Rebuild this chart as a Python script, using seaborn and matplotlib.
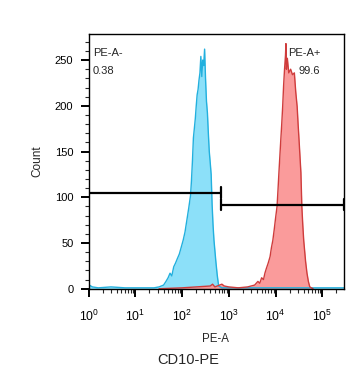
import numpy as np
import matplotlib
matplotlib.use("Agg")
import matplotlib.pyplot as plt
from matplotlib.ticker import FixedLocator, NullFormatter, MultipleLocator
import seaborn as sns

# ----------------------------------------------------
# DATA
# ----------------------------------------------------

# unstained / isotype (blue) histogram: PE-A value, count
blue_pe = [1.0, 1.03, 1.2, 1.6, 3, 6, 12, 25, 32, 40, 45, 50, 55, 60, 66, 72, 79, 87,
           95, 105, 115, 126, 138, 151, 158, 166, 174, 182, 191, 200, 209, 219,
           229, 240, 251, 263, 275, 288, 302, 316, 331, 347, 363, 380, 398, 417,
           437, 457, 479, 525, 562, 603, 708, 1500, 5000, 30000, 290000]
blue_count = [28, 4, 2, 1, 2, 1, 1, 1, 2, 4, 8, 12, 17, 14, 24, 28, 33, 38,
              45, 53, 62, 75, 88, 102, 118, 140, 165, 175, 186, 200, 212, 218,
              228, 236, 254, 232, 250, 244, 262, 230, 205, 192, 170, 150, 138, 125,
              92, 70, 53, 30, 15, 3, 1, 1, 1, 1, 1]

# CD10-PE stained (red) histogram: PE-A value, count
red_pe = [32, 100, 398, 447, 501, 631, 708, 794, 1000, 1585, 2512, 3548, 4169,
          4571, 5012, 5495, 5888, 6310, 6918, 7586, 8128, 8710, 9333, 10000,
          10715, 11220, 11749, 12303, 12882, 13490, 14125, 14791, 15488, 16218,
          16596, 16982, 17783, 19055, 20893, 22909, 25119, 26915, 28840, 30200,
          31623, 33113, 34674, 36308, 38019, 39811, 43652, 46774, 50119, 53703,
          63096]
red_count = [0, 1, 3, 5, 2, 4, 5, 3, 2, 1, 2, 4, 8,
             6, 12, 10, 17, 22, 28, 35, 45, 53, 65, 78,
             90, 108, 127, 145, 163, 180, 199, 222, 240, 255,
             268, 240, 252, 236, 240, 234, 236, 215, 199, 180,
             163, 145, 127, 90, 70, 53, 30, 17, 8, 2,
             0]

# gates: (start, end, height)
gate_neg = (1.0, 676, 105)
gate_pos = (676, 2.9e5, 92)
gate_labels = [("PE-A-", "0.38"), ("PE-A+", "99.6")]

x_major = [1, 10, 100, 1000, 10000, 100000]
x_major_labels = ["$10^{0}$", "$10^{1}$", "$10^{2}$", "$10^{3}$", "$10^{4}$", "$10^{5}$"]
y_major = [0, 50, 100, 150, 200, 250]

# ----------------------------------------------------
# PLOT
# ----------------------------------------------------

sns.set_style("ticks")
plt.rcParams["font.family"] = ["Liberation Sans", "DejaVu Sans"]
plt.rcParams["mathtext.default"] = "regular"

fig = plt.figure(figsize=(3.63, 3.80), dpi=100)
ax = fig.add_axes([0.2443, 0.2387, 0.7034, 0.6718])

ax.fill_between(blue_pe, blue_count, color="#86dff9", alpha=0.95, lw=0)
ax.fill_between(red_pe, red_count, color="#fa9696", alpha=0.95, lw=0)
sns.lineplot(x=blue_pe, y=blue_count, ax=ax, color="#22b0de", lw=1.0, sort=False)
sns.lineplot(x=red_pe, y=red_count, ax=ax, color="#cf3c3c", lw=1.0, sort=False)

# gates
for (x0, x1, h), caps in [(gate_neg, [gate_neg[1]]), (gate_pos, [gate_pos[0], gate_pos[1]])]:
    ax.plot([x0, x1], [h, h], color="black", lw=1.6, solid_capstyle="butt")
    for c in caps:
        ax.plot([c, c], [h - 6, h + 6], color="black", lw=1.6)

ax.set_xscale("log")
ax.set_xlim(1, 2.9e5)
ax.set_ylim(-0.6, 278.5)

ax.xaxis.set_major_locator(FixedLocator(x_major))
ax.set_xticklabels(x_major_labels)
minor = [k * 10 ** d for d in range(0, 6) for k in range(2, 10)]
ax.xaxis.set_minor_locator(FixedLocator(minor))
ax.xaxis.set_minor_formatter(NullFormatter())
ax.yaxis.set_major_locator(FixedLocator(y_major))
ax.yaxis.set_minor_locator(MultipleLocator(10))

ax.tick_params(axis="both", which="major", direction="out", length=6, width=1.4,
               colors="black")
ax.tick_params(axis="both", which="minor", direction="out", length=3, width=0.8)
ax.tick_params(axis="x", which="major", pad=8, labelsize=8.8)
ax.tick_params(axis="y", which="major", pad=5, labelsize=8)

for s in ax.spines.values():
    s.set_visible(True)
    s.set_color("black")
    s.set_linewidth(1.0)

ax.set_ylabel("Count", fontsize=8.5)
ax.yaxis.set_label_coords(-0.178, 0.5)
ax.set_xlabel("PE-A", fontsize=8.3)
ax.xaxis.set_label_coords(0.495, -0.171)

ax.text(0.017, 0.925, gate_labels[0][0], transform=ax.transAxes, fontsize=8, va="center")
ax.text(0.017, 0.855, gate_labels[0][1], transform=ax.transAxes, fontsize=8, va="center")
ax.text(0.781, 0.925, gate_labels[1][0], transform=ax.transAxes, fontsize=8, va="center")
ax.text(0.820, 0.855, gate_labels[1][1], transform=ax.transAxes, fontsize=8, va="center")

fig.text(0.518, 0.0526, "CD10-PE", fontsize=10.5, ha="center", va="center")

fig.savefig("out.png", dpi=100)
plt.close(fig)
